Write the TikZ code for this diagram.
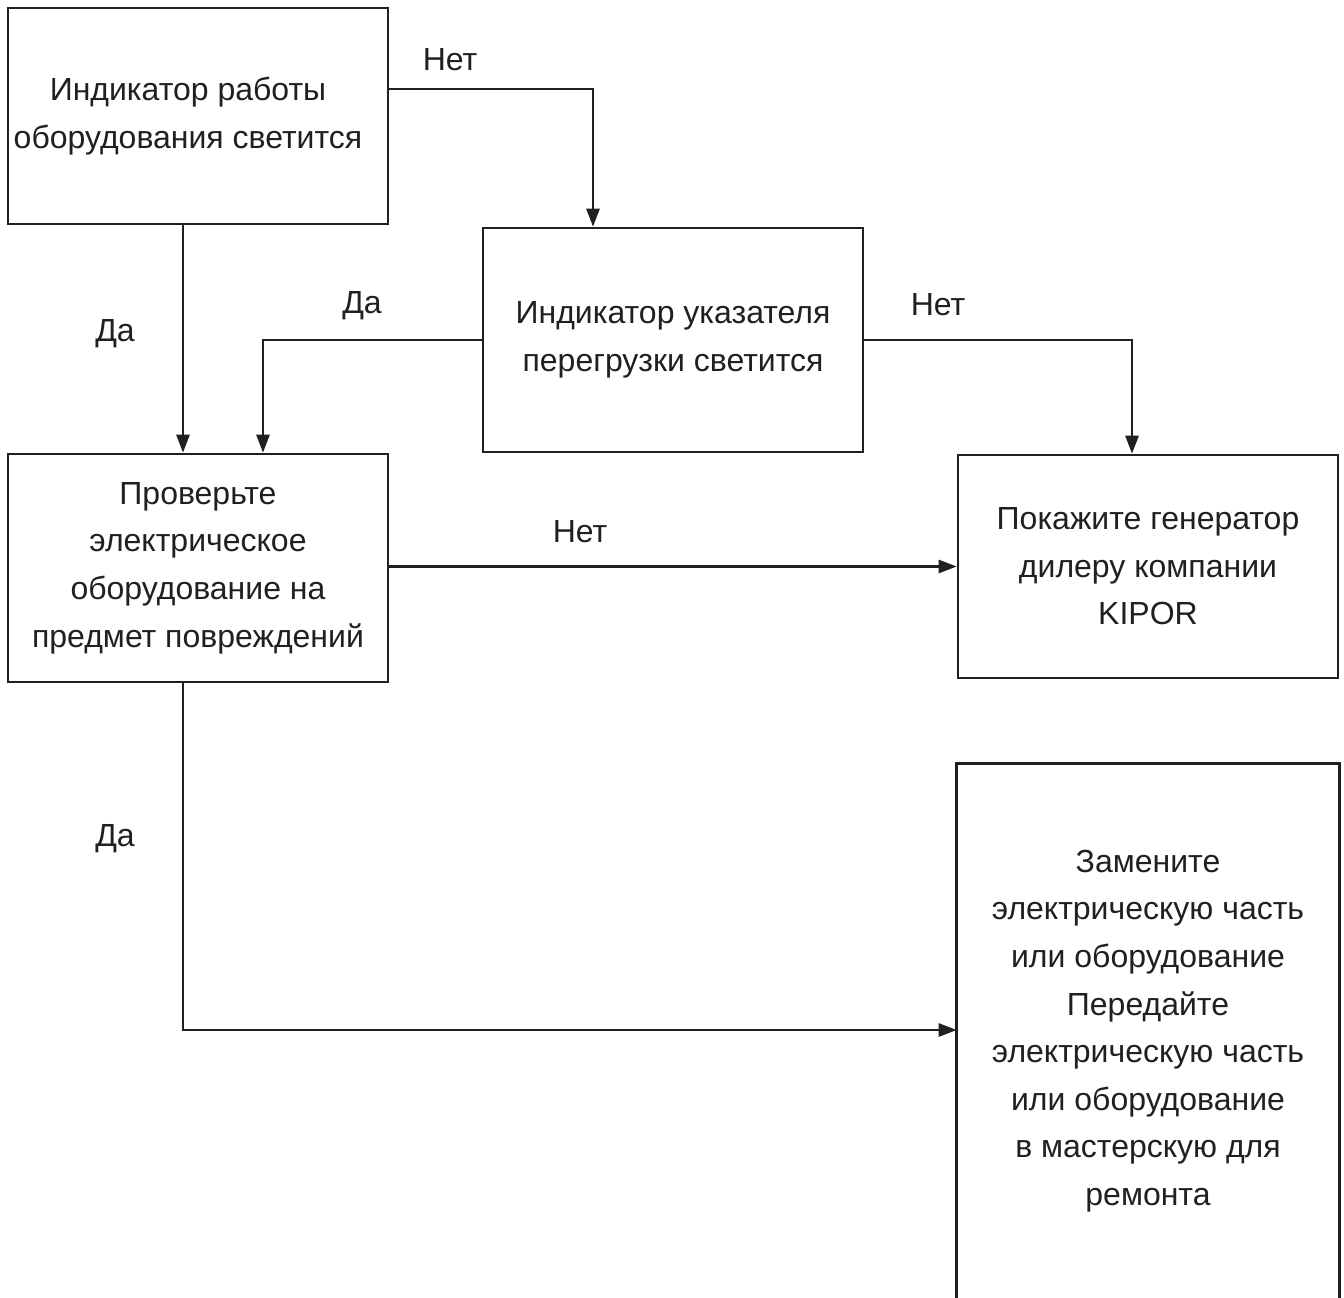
\documentclass[tikz,border=0pt]{standalone}
\usepackage{fontspec}
\setmainfont{Liberation Sans}
\usepackage{tikz}
\usetikzlibrary{arrows.meta, positioning, calc}
\definecolor{tinta}{RGB}{35,31,32}
\tikzset{>={Triangle[length=9pt,width=6.5pt]}}
\tikzset{caja/.style={draw=tinta, line width=1.3pt, inner sep=0pt, minimum width=190pt, align=center, text=tinta, font=\fontsize{16}{23.8}\selectfont},
  etiqueta/.style={text=tinta, inner sep=0pt, font=\fontsize{16}{18}\selectfont},
  flecha/.style={->, draw=tinta, line width=1.3pt},
  borde/.style={draw=tinta, line width=1.3pt}}

\begin{document}
\begin{tikzpicture}[x=0.5pt, y=-0.5pt]
        \useasboundingbox (0,0) rectangle (1344,1297);
        % boxes
        \node[caja, minimum height=108pt] (luz) at (198,116) {Индикатор работы\hspace*{10pt}\\оборудования светится\hspace*{10pt}};
        \node[caja, minimum height=112pt] (sobre) at (673,340) {Индикатор указателя\\перегрузки светится};
        \node[caja, minimum height=114pt] (revisar) at (198,568) {Проверьте\\электрическое\\оборудование на\\предмет повреждений};
        \node[caja, minimum height=111.5pt] (kipor) at (1148,566.5) {Покажите генератор\\дилеру компании\\KIPOR};
        \node[caja, draw=none, minimum height=266pt] (taller) at (1148,1031) {Замените\\электрическую часть\\или оборудование\\Передайте\\электрическую часть\\или оборудование\\в мастерскую для\\ремонта};
        % open box, runs off the page
        \draw[borde] (taller.south west) -- (taller.north west) -- (taller.north east) -- (taller.south east);
        % labels
        \node[etiqueta] (no1) at (450,60) {Нет};
        \node[etiqueta] (si1) at (115,334) {Да};
        \node[etiqueta] (si2) at (362,306) {Да};
        \node[etiqueta] (no2) at (938,305) {Нет};
        \node[etiqueta] (no3) at (580,532) {Нет};
        \node[etiqueta] (si3) at (115,839) {Да};
        % arrows
        \draw[flecha] ([yshift=13.5pt]luz.east) -| ([xshift=-40pt]sobre.north);
        \draw[flecha] ([xshift=-7.5pt]luz.south) -- ([xshift=-7.5pt]revisar.north);
        \draw[flecha] (sobre.west) -| ([xshift=32.5pt]revisar.north);
        \draw[flecha] (sobre.east) -| ([xshift=-8pt]kipor.north);
        \draw[flecha] (kipor.west -| revisar.east) -- (kipor.west);
        \draw[flecha] ([xshift=-7.5pt]revisar.south) |- ([yshift=0.5pt]taller.west);
      \end{tikzpicture}
\end{document}
